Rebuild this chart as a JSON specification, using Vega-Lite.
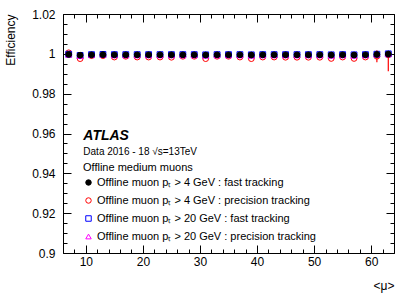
{
  "$schema": "https://vega.github.io/schema/vega-lite/v6.json",
  "width": 331,
  "height": 239,
  "autosize": "none",
  "padding": {"left": 63, "top": 14, "right": 21, "bottom": 45},
  "background": "white",
  "config": {
    "view": {"stroke": "black", "strokeWidth": 1},
    "font": "Liberation Sans",
    "axis": {
      "labelFont": "Liberation Sans",
      "labelFontSize": 12,
      "labelColor": "black",
      "tickColor": "black",
      "tickWidth": 1,
      "domain": false,
      "grid": false,
      "titleFont": "Liberation Sans",
      "titleFontSize": 12,
      "titleFontWeight": "normal",
      "titleColor": "black"
    },
    "legend": {
      "labelFont": "Liberation Sans",
      "titleFont": "Liberation Sans"
    }
  },
  "datasets": {
    "eff": [
      {"mu": 7, "series": "p4p", "eff": 1.0005},
      {"mu": 9, "series": "p4p", "eff": 0.9976},
      {"mu": 11, "series": "p4p", "eff": 0.9991},
      {"mu": 13, "series": "p4p", "eff": 0.9991},
      {"mu": 15, "series": "p4p", "eff": 0.9984},
      {"mu": 17, "series": "p4p", "eff": 0.9988},
      {"mu": 19, "series": "p4p", "eff": 0.9984},
      {"mu": 21, "series": "p4p", "eff": 0.9984},
      {"mu": 23, "series": "p4p", "eff": 0.9984},
      {"mu": 25, "series": "p4p", "eff": 0.9983},
      {"mu": 27, "series": "p4p", "eff": 0.9988},
      {"mu": 29, "series": "p4p", "eff": 0.9988},
      {"mu": 31, "series": "p4p", "eff": 0.9976},
      {"mu": 33, "series": "p4p", "eff": 0.9988},
      {"mu": 35, "series": "p4p", "eff": 0.9988},
      {"mu": 37, "series": "p4p", "eff": 0.9984},
      {"mu": 39, "series": "p4p", "eff": 0.9976},
      {"mu": 41, "series": "p4p", "eff": 0.9984},
      {"mu": 43, "series": "p4p", "eff": 0.9984},
      {"mu": 45, "series": "p4p", "eff": 0.9983},
      {"mu": 47, "series": "p4p", "eff": 0.9983},
      {"mu": 49, "series": "p4p", "eff": 0.9983},
      {"mu": 51, "series": "p4p", "eff": 0.9983},
      {"mu": 53, "series": "p4p", "eff": 0.9977},
      {"mu": 55, "series": "p4p", "eff": 0.9984},
      {"mu": 57, "series": "p4p", "eff": 0.9977},
      {"mu": 59, "series": "p4p", "eff": 0.9984},
      {"mu": 61, "series": "p4p", "eff": 0.9988, "lo": 0.9958, "hi": 1.0018},
      {"mu": 63, "series": "p4p", "eff": 0.9995, "lo": 0.9913, "hi": 1.0005},
      {"mu": 7, "series": "p20f", "eff": 0.9998},
      {"mu": 9, "series": "p20f", "eff": 0.9992},
      {"mu": 11, "series": "p20f", "eff": 0.9996},
      {"mu": 13, "series": "p20f", "eff": 0.9997},
      {"mu": 15, "series": "p20f", "eff": 0.9996},
      {"mu": 17, "series": "p20f", "eff": 0.9996},
      {"mu": 19, "series": "p20f", "eff": 0.9996},
      {"mu": 21, "series": "p20f", "eff": 0.9996},
      {"mu": 23, "series": "p20f", "eff": 0.9996},
      {"mu": 25, "series": "p20f", "eff": 0.9996},
      {"mu": 27, "series": "p20f", "eff": 0.9996},
      {"mu": 29, "series": "p20f", "eff": 0.9996},
      {"mu": 31, "series": "p20f", "eff": 0.9995},
      {"mu": 33, "series": "p20f", "eff": 0.9996},
      {"mu": 35, "series": "p20f", "eff": 0.9996},
      {"mu": 37, "series": "p20f", "eff": 0.9996},
      {"mu": 39, "series": "p20f", "eff": 0.9995},
      {"mu": 41, "series": "p20f", "eff": 0.9996},
      {"mu": 43, "series": "p20f", "eff": 0.9996},
      {"mu": 45, "series": "p20f", "eff": 0.9996},
      {"mu": 47, "series": "p20f", "eff": 0.9996},
      {"mu": 49, "series": "p20f", "eff": 0.9996},
      {"mu": 51, "series": "p20f", "eff": 0.9996},
      {"mu": 53, "series": "p20f", "eff": 0.9995},
      {"mu": 55, "series": "p20f", "eff": 0.9996},
      {"mu": 57, "series": "p20f", "eff": 0.9995},
      {"mu": 59, "series": "p20f", "eff": 0.9996},
      {"mu": 61, "series": "p20f", "eff": 0.9998},
      {"mu": 63, "series": "p20f", "eff": 1.0},
      {"mu": 7, "series": "p20p", "eff": 0.9996},
      {"mu": 9, "series": "p20p", "eff": 0.9989},
      {"mu": 11, "series": "p20p", "eff": 0.9994},
      {"mu": 13, "series": "p20p", "eff": 0.9995},
      {"mu": 15, "series": "p20p", "eff": 0.9993},
      {"mu": 17, "series": "p20p", "eff": 0.9993},
      {"mu": 19, "series": "p20p", "eff": 0.9993},
      {"mu": 21, "series": "p20p", "eff": 0.9993},
      {"mu": 23, "series": "p20p", "eff": 0.9993},
      {"mu": 25, "series": "p20p", "eff": 0.9993},
      {"mu": 27, "series": "p20p", "eff": 0.9993},
      {"mu": 29, "series": "p20p", "eff": 0.9993},
      {"mu": 31, "series": "p20p", "eff": 0.9991},
      {"mu": 33, "series": "p20p", "eff": 0.9993},
      {"mu": 35, "series": "p20p", "eff": 0.9993},
      {"mu": 37, "series": "p20p", "eff": 0.9993},
      {"mu": 39, "series": "p20p", "eff": 0.9991},
      {"mu": 41, "series": "p20p", "eff": 0.9993},
      {"mu": 43, "series": "p20p", "eff": 0.9993},
      {"mu": 45, "series": "p20p", "eff": 0.9993},
      {"mu": 47, "series": "p20p", "eff": 0.9993},
      {"mu": 49, "series": "p20p", "eff": 0.9993},
      {"mu": 51, "series": "p20p", "eff": 0.9993},
      {"mu": 53, "series": "p20p", "eff": 0.9991},
      {"mu": 55, "series": "p20p", "eff": 0.9993},
      {"mu": 57, "series": "p20p", "eff": 0.9991},
      {"mu": 59, "series": "p20p", "eff": 0.9993},
      {"mu": 61, "series": "p20p", "eff": 0.9997},
      {"mu": 63, "series": "p20p", "eff": 0.9999},
      {"mu": 7, "series": "p4f", "eff": 0.9997},
      {"mu": 9, "series": "p4f", "eff": 0.9993},
      {"mu": 11, "series": "p4f", "eff": 0.9995},
      {"mu": 13, "series": "p4f", "eff": 0.9996},
      {"mu": 15, "series": "p4f", "eff": 0.9995},
      {"mu": 17, "series": "p4f", "eff": 0.9995},
      {"mu": 19, "series": "p4f", "eff": 0.9995},
      {"mu": 21, "series": "p4f", "eff": 0.9995},
      {"mu": 23, "series": "p4f", "eff": 0.9995},
      {"mu": 25, "series": "p4f", "eff": 0.9995},
      {"mu": 27, "series": "p4f", "eff": 0.9995},
      {"mu": 29, "series": "p4f", "eff": 0.9995},
      {"mu": 31, "series": "p4f", "eff": 0.9994},
      {"mu": 33, "series": "p4f", "eff": 0.9995},
      {"mu": 35, "series": "p4f", "eff": 0.9995},
      {"mu": 37, "series": "p4f", "eff": 0.9995},
      {"mu": 39, "series": "p4f", "eff": 0.9994},
      {"mu": 41, "series": "p4f", "eff": 0.9995},
      {"mu": 43, "series": "p4f", "eff": 0.9995},
      {"mu": 45, "series": "p4f", "eff": 0.9995},
      {"mu": 47, "series": "p4f", "eff": 0.9995},
      {"mu": 49, "series": "p4f", "eff": 0.9995},
      {"mu": 51, "series": "p4f", "eff": 0.9995},
      {"mu": 53, "series": "p4f", "eff": 0.9994},
      {"mu": 55, "series": "p4f", "eff": 0.9995},
      {"mu": 57, "series": "p4f", "eff": 0.9994},
      {"mu": 59, "series": "p4f", "eff": 0.9995},
      {"mu": 61, "series": "p4f", "eff": 0.9997},
      {"mu": 63, "series": "p4f", "eff": 0.9999}
    ]
  },
  "layer": [
    {
      "data": {"name": "eff"},
      "transform": [{"filter": "isValid(datum.lo)"}],
      "mark": {"type": "rule", "color": "#ff0000", "strokeWidth": 1.2},
      "encoding": {
        "x": {
          "field": "mu", "type": "quantitative",
          "scale": {"domain": [6, 64], "nice": false, "zero": false},
          "axis": {
            "orient": "bottom",
            "values": [10, 20, 30, 40, 50, 60],
            "tickSize": -8,
            "labelPadding": 11,
            "title": "<μ>",
            "titleAnchor": "end",
            "titlePadding": 13
          }
        },
        "y": {
          "field": "lo", "type": "quantitative",
          "scale": {"domain": [0.9, 1.02], "nice": false, "zero": false},
          "axis": {
            "orient": "left",
            "values": [0.9, 0.92, 0.94, 0.96, 0.98, 1, 1.02],
            "format": "~g",
            "tickSize": -8,
            "labelPadding": 16,
            "title": "Efficiency",
            "titleAnchor": "end",
            "titlePadding": 14
          }
        },
        "y2": {"field": "hi"}
      }
    },
    {
      "data": {"name": "eff"},
      "mark": {"type": "point", "strokeWidth": 1, "size": 34, "opacity": 1},
      "encoding": {
        "x": {
          "field": "mu", "type": "quantitative",
          "axis": {
            "orient": "bottom",
            "values": [6, 8, 12, 14, 16, 18, 22, 24, 26, 28, 32, 34, 36, 38, 42, 44, 46, 48, 52, 54, 56, 58, 62, 64],
            "tickSize": -4,
            "labels": false,
            "title": null
          }
        },
        "y": {
          "field": "eff", "type": "quantitative",
          "axis": {
            "orient": "left",
            "values": [0.905, 0.91, 0.915, 0.925, 0.93, 0.935, 0.945, 0.95, 0.955, 0.965, 0.97, 0.975, 0.985, 0.99, 0.995, 1.005, 1.01, 1.015],
            "tickSize": -4,
            "labels": false,
            "title": null
          }
        },
        "shape": {
          "field": "series", "type": "nominal",
          "scale": {"domain": ["p4f", "p4p", "p20f", "p20p"], "range": ["circle", "circle", "square", "triangle-up"]},
          "legend": {
            "title": "Offline medium muons",
            "orient": "none",
            "legendX": 20,
            "legendY": 148,
            "padding": 0,
            "titleFontSize": 11,
            "titleFontWeight": "normal",
            "titleColor": "black",
            "titlePadding": 4,
            "labelFontSize": 11,
            "labelColor": "black",
            "symbolSize": 30,
            "symbolStrokeWidth": 1,
            "symbolOffset": 0,
            "labelOffset": 3,
            "rowPadding": 6,
            "labelLimit": 400,
            "labelExpr": "{'p4f': 'Offline muon pₜ > 4 GeV : fast tracking', 'p4p': 'Offline muon pₜ > 4 GeV : precision tracking', 'p20f': 'Offline muon pₜ > 20 GeV : fast tracking', 'p20p': 'Offline muon pₜ > 20 GeV : precision tracking'}[datum.value]"
          }
        },
        "stroke": {
          "field": "series", "type": "nominal",
          "scale": {"domain": ["p4f", "p4p", "p20f", "p20p"], "range": ["#000000", "#ff0000", "#0000ff", "#ff00ff"]},
          "legend": {
            "title": "Offline medium muons",
            "orient": "none",
            "legendX": 20,
            "legendY": 148,
            "padding": 0,
            "titleFontSize": 11,
            "titleFontWeight": "normal",
            "titleColor": "black",
            "titlePadding": 4,
            "labelFontSize": 11,
            "labelColor": "black",
            "symbolSize": 30,
            "symbolStrokeWidth": 1,
            "symbolOffset": 0,
            "labelOffset": 3,
            "rowPadding": 6,
            "labelLimit": 400,
            "labelExpr": "{'p4f': 'Offline muon pₜ > 4 GeV : fast tracking', 'p4p': 'Offline muon pₜ > 4 GeV : precision tracking', 'p20f': 'Offline muon pₜ > 20 GeV : fast tracking', 'p20p': 'Offline muon pₜ > 20 GeV : precision tracking'}[datum.value]"
          }
        },
        "fill": {
          "field": "series", "type": "nominal",
          "scale": {"domain": ["p4f", "p4p", "p20f", "p20p"], "range": ["#000000", "transparent", "transparent", "transparent"]},
          "legend": {
            "title": "Offline medium muons",
            "orient": "none",
            "legendX": 20,
            "legendY": 148,
            "padding": 0,
            "titleFontSize": 11,
            "titleFontWeight": "normal",
            "titleColor": "black",
            "titlePadding": 4,
            "labelFontSize": 11,
            "labelColor": "black",
            "symbolSize": 30,
            "symbolStrokeWidth": 1,
            "symbolOffset": 0,
            "labelOffset": 3,
            "rowPadding": 6,
            "labelLimit": 400,
            "labelExpr": "{'p4f': 'Offline muon pₜ > 4 GeV : fast tracking', 'p4p': 'Offline muon pₜ > 4 GeV : precision tracking', 'p20f': 'Offline muon pₜ > 20 GeV : fast tracking', 'p20p': 'Offline muon pₜ > 20 GeV : precision tracking'}[datum.value]"
          }
        }
      }
    },
    {
      "data": {"values": [{}]},
      "mark": {"type": "text", "text": "ATLAS", "font": "Liberation Sans", "fontSize": 14, "fontWeight": "bold", "fontStyle": "italic", "align": "left", "baseline": "alphabetic", "color": "black"},
      "encoding": {
        "x": {
          "datum": 9.56, "type": "quantitative",
          "axis": {"orient": "top", "values": [10, 20, 30, 40, 50, 60], "tickSize": -8, "labels": false, "title": null}
        },
        "y": {
          "datum": 0.9567, "type": "quantitative",
          "axis": {"orient": "right", "values": [0.9, 0.92, 0.94, 0.96, 0.98, 1, 1.02], "tickSize": -8, "labels": false, "title": null}
        }
      }
    },
    {
      "data": {"values": [{}]},
      "mark": {"type": "text", "text": "Data 2016 - 18 √s=13TeV", "font": "Liberation Sans", "fontSize": 10, "align": "left", "baseline": "alphabetic", "color": "black"},
      "encoding": {
        "x": {
          "datum": 9.56, "type": "quantitative",
          "axis": {"orient": "top", "values": [6, 8, 12, 14, 16, 18, 22, 24, 26, 28, 32, 34, 36, 38, 42, 44, 46, 48, 52, 54, 56, 58, 62, 64], "tickSize": -4, "labels": false, "title": null}
        },
        "y": {
          "datum": 0.949, "type": "quantitative",
          "axis": {"orient": "right", "values": [0.905, 0.91, 0.915, 0.925, 0.93, 0.935, 0.945, 0.95, 0.955, 0.965, 0.97, 0.975, 0.985, 0.99, 0.995, 1.005, 1.01, 1.015], "tickSize": -4, "labels": false, "title": null}
        }
      }
    }
  ],
  "resolve": {"axis": {"x": "independent", "y": "independent"}}
}
